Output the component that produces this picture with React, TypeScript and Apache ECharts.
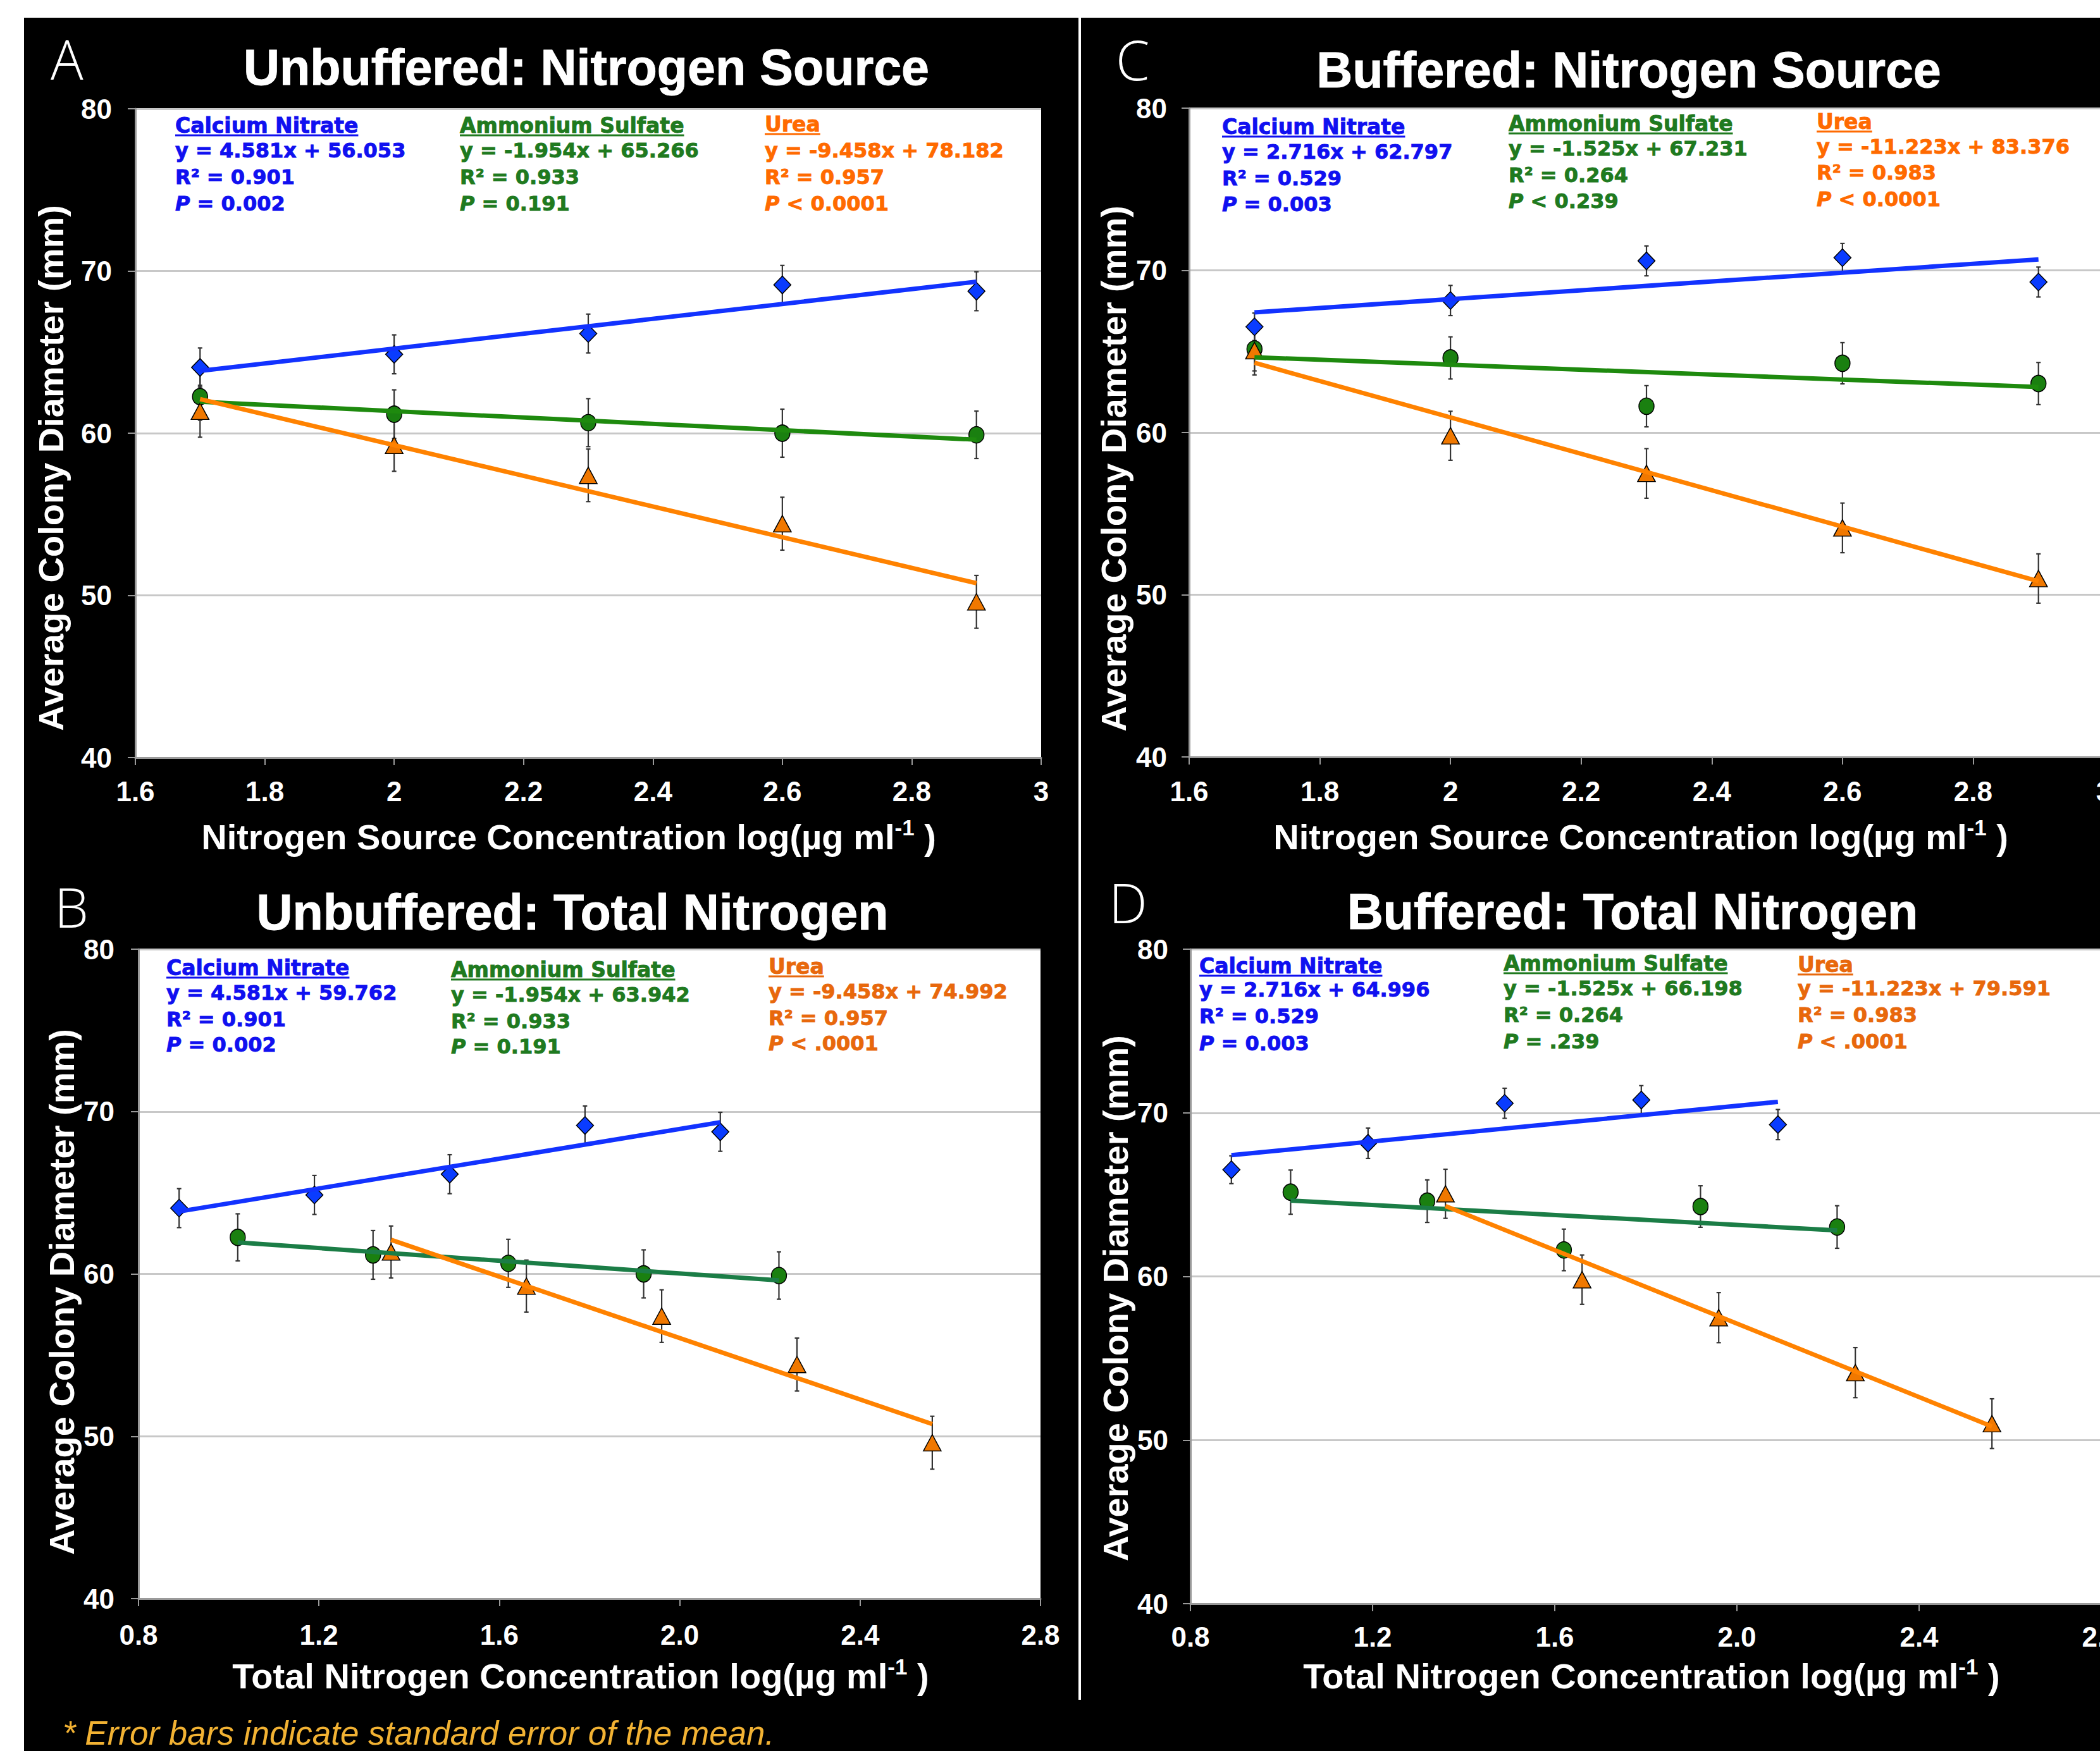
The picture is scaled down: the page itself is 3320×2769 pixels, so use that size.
import React, { useEffect, useRef } from "react";
import * as echarts from "echarts";

// ---------- data ----------
const SOURCE_X = [1.7, 2.0, 2.3, 2.6, 2.9];
const TOTAL_X_CN = [0.89, 1.19, 1.49, 1.79, 2.09];
const TOTAL_X_AS = [1.02, 1.32, 1.62, 1.92, 2.22];
const TOTAL_X_UREA = [1.36, 1.66, 1.96, 2.26, 2.56];

const UNBUF_CN = [64.05, 64.86, 66.14, 69.14, 68.75];
const UNBUF_CN_SE = [1.2, 1.2, 1.2, 1.2, 1.2];
const UNBUF_AS = [62.25, 61.17, 60.65, 60.0, 59.9];
const UNBUF_AS_SE = [1.45, 1.5, 1.48, 1.48, 1.46];
const UNBUF_UREA = [61.35, 59.25, 57.4, 54.42, 49.6];
const UNBUF_UREA_SE = [1.6, 1.6, 1.62, 1.63, 1.63];

const BUF_CN = [66.52, 68.14, 70.58, 70.78, 69.28];
const BUF_CN_SE = [0.85, 0.93, 0.92, 0.88, 0.92];
const BUF_AS = [65.15, 64.6, 61.62, 64.27, 63.02];
const BUF_AS_SE = [1.35, 1.3, 1.27, 1.27, 1.3];
const BUF_UREA = [65.05, 59.8, 57.48, 54.12, 51.0];
const BUF_UREA_SE = [1.5, 1.51, 1.53, 1.53, 1.52];

// trend line end values (at first and last x of each series)
const UNBUF_TREND_CN = [63.84, 69.34];
const UNBUF_TREND_AS = [61.94, 59.6];
const UNBUF_TREND_UREA = [62.1, 50.75];
const BUF_TREND_CN = [67.41, 70.67];
const BUF_TREND_AS = [64.64, 62.81];
const BUF_TREND_UREA = [64.3, 50.83];

const Y_TICKS = { min: 40, max: 80, interval: 10 };
const SOURCE_TICKS = { min: 1.6, max: 3, interval: 0.2 };
const TOTAL_TICKS = { min: 0.8, max: 2.8, interval: 0.4 };

const SERIES_NAMES = ["Calcium Nitrate", "Ammonium Sulfate", "Urea"];

const A_EQ = ["y = 4.581x + 56.053", "y = -1.954x + 65.266", "y = -9.458x + 78.182"];
const A_R2 = ["R² = 0.901", "R² = 0.933", "R² = 0.957"];
const A_P = [" = 0.002", " = 0.191", " < 0.0001"];
const C_EQ = ["y = 2.716x + 62.797", "y = -1.525x + 67.231", "y = -11.223x + 83.376"];
const C_R2 = ["R² = 0.529", "R² = 0.264", "R² = 0.983"];
const C_P = [" = 0.003", " < 0.239", " < 0.0001"];
const B_EQ = ["y = 4.581x + 59.762", "y = -1.954x + 63.942", "y = -9.458x + 74.992"];
const B_R2 = ["R² = 0.901", "R² = 0.933", "R² = 0.957"];
const B_P = [" = 0.002", " = 0.191", " < .0001"];
const D_EQ = ["y = 2.716x + 64.996", "y = -1.525x + 66.198", "y = -11.223x + 79.591"];
const D_R2 = ["R² = 0.529", "R² = 0.264", "R² = 0.983"];
const D_P = [" = 0.003", " = .239", " < .0001"];

const Y_NAME = "Average Colony Diameter (mm)";
const FOOTNOTE = "* Error bars indicate standard error of the mean.";

// ---------- styles ----------
const SYMBOLS = ["diamond", "circle", "triangle"];
const SYMBOL_SIZES: any[] = [[27, 28], [24, 26], [28, 26]];
const MARKER_COLORS = ["#0A3CFF", "#1A8010", "#F07800"];
const TEXT_BOLD = "Liberation Sans";
const LEG_FONT = "DejaVu Sans";

const PANELS = [
  {
    letter: "A", title: "Unbuffered: Nitrogen Source", xNameMain: "Nitrogen Source Concentration log(µg ml",
    grid: { left: 214, top: 172, width: 1432, height: 1026 }, xt: SOURCE_TICKS, dec: false,
    xs: [SOURCE_X, SOURCE_X, SOURCE_X], ys: [UNBUF_CN, UNBUF_AS, UNBUF_UREA],
    se: [UNBUF_CN_SE, UNBUF_AS_SE, UNBUF_UREA_SE], trend: [UNBUF_TREND_CN, UNBUF_TREND_AS, UNBUF_TREND_UREA],
    eq: A_EQ, r2: A_R2, p: A_P,
    letterPos: [80, 92], titlePos: [927, 106], xNamePos: [899, 1323], yNamePos: [80, 740],
    legX: [277, 727, 1209], legY: [[198, 238, 280, 322], [198, 238, 280, 322], [196, 238, 280, 322]],
    yMargin: 37, xMargin: 31,
    lineColors: ["#1232FF", "#1E8A0E", "#FF8200"], textColors: ["#1010F0", "#1F7A1F", "#FF6A00"],
  },
  {
    letter: "C", title: "Buffered: Nitrogen Source", xNameMain: "Nitrogen Source Concentration log(µg ml",
    grid: { left: 1880, top: 171, width: 1446, height: 1026 }, xt: SOURCE_TICKS, dec: false,
    xs: [SOURCE_X, SOURCE_X, SOURCE_X], ys: [BUF_CN, BUF_AS, BUF_UREA],
    se: [BUF_CN_SE, BUF_AS_SE, BUF_UREA_SE], trend: [BUF_TREND_CN, BUF_TREND_AS, BUF_TREND_UREA],
    eq: C_EQ, r2: C_R2, p: C_P,
    letterPos: [1764, 93], titlePos: [2575, 110], xNamePos: [2594, 1323], yNamePos: [1760, 741],
    legX: [1932, 2385, 2872], legY: [[200, 240, 282, 323], [195, 235, 277, 318], [192, 232, 273, 315]],
    yMargin: 35, xMargin: 32,
    lineColors: ["#1232FF", "#1E8A0E", "#FF8200"], textColors: ["#1010F0", "#1F7A1F", "#FF6A00"],
  },
  {
    letter: "B", title: "Unbuffered: Total Nitrogen", xNameMain: "Total Nitrogen Concentration log(µg ml",
    grid: { left: 219, top: 1501, width: 1426, height: 1027 }, xt: TOTAL_TICKS, dec: true,
    xs: [TOTAL_X_CN, TOTAL_X_AS, TOTAL_X_UREA], ys: [UNBUF_CN, UNBUF_AS, UNBUF_UREA],
    se: [UNBUF_CN_SE, UNBUF_AS_SE, UNBUF_UREA_SE], trend: [UNBUF_TREND_CN, UNBUF_TREND_AS, UNBUF_TREND_UREA],
    eq: B_EQ, r2: B_R2, p: B_P,
    letterPos: [86, 1433], titlePos: [905, 1442], xNamePos: [918, 2650], yNamePos: [97, 2043],
    legX: [263, 713, 1215], legY: [[1530, 1570, 1612, 1652], [1533, 1573, 1615, 1655], [1528, 1568, 1610, 1650]],
    yMargin: 38, xMargin: 35,
    lineColors: ["#1232FF", "#1B7D46", "#FF8200"], textColors: ["#1010F0", "#1F7A1F", "#E8680C"],
  },
  {
    letter: "D", title: "Buffered: Total Nitrogen", xNameMain: "Total Nitrogen Concentration log(µg ml",
    grid: { left: 1882, top: 1501, width: 1440, height: 1035 }, xt: TOTAL_TICKS, dec: true,
    xs: [TOTAL_X_CN, TOTAL_X_AS, TOTAL_X_UREA], ys: [BUF_CN, BUF_AS, BUF_UREA],
    se: [BUF_CN_SE, BUF_AS_SE, BUF_UREA_SE], trend: [BUF_TREND_CN, BUF_TREND_AS, BUF_TREND_UREA],
    eq: D_EQ, r2: D_R2, p: D_P,
    letterPos: [1753, 1426], titlePos: [2581, 1441], xNamePos: [2611, 2650], yNamePos: [1763, 2053],
    legX: [1896, 2377, 2842], legY: [[1527, 1565, 1607, 1650], [1523, 1563, 1605, 1647], [1525, 1563, 1605, 1647]],
    yMargin: 35, xMargin: 30,
    lineColors: ["#1232FF", "#1B7D46", "#FF8200"], textColors: ["#1010F0", "#1F7A1F", "#E8680C"],
  },
];

function errorBarRender(params: any, api: any) {
  const x = api.value(0);
  const y = api.value(1);
  const e = api.value(2);
  const top = api.coord([x, y + e]);
  const bot = api.coord([x, y - e]);
  const cap = 3.5;
  const st = { stroke: "#333", lineWidth: 2.2 };
  return {
    type: "group",
    children: [
      { type: "line", shape: { x1: top[0], y1: top[1], x2: bot[0], y2: bot[1] }, style: st },
      { type: "line", shape: { x1: top[0] - cap, y1: top[1], x2: top[0] + cap, y2: top[1] }, style: st },
      { type: "line", shape: { x1: bot[0] - cap, y1: bot[1], x2: bot[0] + cap, y2: bot[1] }, style: st },
    ],
  };
}

export default function App() {
  const ref = useRef<HTMLDivElement>(null);

  useEffect(() => {
    document.body.style.margin = "0";
    document.body.style.overflow = "hidden";
    const chart = echarts.init(ref.current!, null, { renderer: "svg" });
    const canvas = document.createElement("canvas");
    const ctx = canvas.getContext("2d")!;
    const measure = (text: string, font: string) => {
      ctx.font = font;
      return ctx.measureText(text).width;
    };

    const grids: any[] = [];
    const xAxes: any[] = [];
    const yAxes: any[] = [];
    const series: any[] = [];
    const graphics: any[] = [
      { type: "rect", shape: { x: 0, y: 0, width: 3320, height: 28 }, style: { fill: "#fff" }, z: 50 },
      { type: "rect", shape: { x: 0, y: 0, width: 38, height: 2769 }, style: { fill: "#fff" }, z: 50 },
      { type: "rect", shape: { x: 1705, y: 28, width: 4, height: 2660 }, style: { fill: "#fff" }, z: 50 },
      {
        type: "text", x: 99, y: 2740, z: 100,
        style: {
          text: FOOTNOTE, fill: "#F2B233", fontSize: 53, fontFamily: "Liberation Sans",
          fontStyle: "italic", align: "left", verticalAlign: "middle",
        },
      },
    ];

    PANELS.forEach((p, gi) => {
      grids.push({
        ...p.grid, show: true, backgroundColor: "#ffffff", borderWidth: 0,
        containLabel: false, outerBoundsMode: "none",
      });
      xAxes.push({
        type: "value", gridIndex: gi, min: p.xt.min, max: p.xt.max, interval: p.xt.interval,
        axisLine: { show: true, onZero: false, lineStyle: { color: "#9a9a9a", width: 3 } },
        axisTick: { show: true, inside: false, length: 12, lineStyle: { color: "#9a9a9a", width: 2 } },
        splitLine: { show: false },
        axisLabel: {
          show: true, color: "#fff", fontSize: 44, fontWeight: "bold", fontFamily: TEXT_BOLD,
          margin: p.xMargin, showMinLabel: true, showMaxLabel: true,
          formatter: p.dec ? (v: number) => v.toFixed(1) : undefined,
        },
      });
      yAxes.push({
        type: "value", gridIndex: gi, min: Y_TICKS.min, max: Y_TICKS.max, interval: Y_TICKS.interval,
        axisLine: { show: true, lineStyle: { color: "#9a9a9a", width: 3 } },
        axisTick: { show: true, inside: false, length: 12, lineStyle: { color: "#9a9a9a", width: 2 } },
        splitLine: { show: true, lineStyle: { color: "#c8c8c8", width: 3 } },
        axisLabel: {
          show: true, color: "#fff", fontSize: 44, fontWeight: "bold", fontFamily: TEXT_BOLD,
          margin: p.yMargin, showMinLabel: true, showMaxLabel: true,
        },
      });

      for (let s = 0; s < 3; s++) {
        const xs = p.xs[s];
        const ys = p.ys[s];
        const se = p.se[s];
        series.push({
          type: "custom", name: SERIES_NAMES[s] + " SE", xAxisIndex: gi, yAxisIndex: gi,
          renderItem: errorBarRender, encode: { x: 0, y: 1 }, silent: true, z: 2,
          data: xs.map((x: number, i: number) => [x, ys[i], se[i]]),
        });
        series.push({
          type: "scatter", name: SERIES_NAMES[s], xAxisIndex: gi, yAxisIndex: gi, z: 3,
          symbol: SYMBOLS[s], symbolSize: SYMBOL_SIZES[s],
          itemStyle: { color: MARKER_COLORS[s], borderColor: "#000", borderWidth: 1.5, opacity: 1 },
          data: xs.map((x: number, i: number) => [x, ys[i]]),
        });
        series.push({
          type: "line", name: SERIES_NAMES[s] + " trend", xAxisIndex: gi, yAxisIndex: gi, z: 4,
          symbol: "none", showSymbol: false, silent: true,
          lineStyle: { width: 7, color: p.lineColors[s] },
          data: [[xs[0], p.trend[s][0]], [xs[xs.length - 1], p.trend[s][1]]],
        });

        // legend block
        const lx = p.legX[s];
        const ly = p.legY[s];
        const col = p.textColors[s];
        const hdrFont = `bold 33px "${LEG_FONT}"`;
        const hw = measure(SERIES_NAMES[s], hdrFont);
        const thick = { stroke: col, lineWidth: 0.9 };
        graphics.push({
          type: "text", x: lx, y: ly[0], z: 100,
          style: { text: SERIES_NAMES[s], fill: col, ...thick, fontSize: 33, fontWeight: "bold", fontFamily: LEG_FONT, align: "left", verticalAlign: "middle" },
        });
        graphics.push({
          type: "line", z: 100, shape: { x1: lx, y1: ly[0] + 16, x2: lx + hw, y2: ly[0] + 16 },
          style: { stroke: col, lineWidth: 3 },
        });
        graphics.push({
          type: "text", x: lx, y: ly[1], z: 100,
          style: { text: p.eq[s], fill: col, ...thick, fontSize: 32, fontWeight: "bold", fontFamily: LEG_FONT, align: "left", verticalAlign: "middle" },
        });
        graphics.push({
          type: "text", x: lx, y: ly[2], z: 100,
          style: { text: p.r2[s], fill: col, ...thick, fontSize: 32, fontWeight: "bold", fontFamily: LEG_FONT, align: "left", verticalAlign: "middle" },
        });
        graphics.push({
          type: "text", x: lx, y: ly[3], z: 100,
          style: {
            text: "{i|P}{n|" + p.p[s] + "}", fill: col, ...thick, fontSize: 32, fontWeight: "bold", fontFamily: LEG_FONT,
            align: "left", verticalAlign: "middle",
            rich: {
              i: { fill: col, color: col, ...thick, fontSize: 32, fontWeight: "bold", fontStyle: "italic", fontFamily: LEG_FONT },
              n: { fill: col, color: col, ...thick, fontSize: 32, fontWeight: "bold", fontFamily: LEG_FONT },
            },
          },
        });
      }

      // panel letter
      graphics.push({
        type: "text", x: p.letterPos[0], y: p.letterPos[1], z: 100,
        style: { text: p.letter, fill: "#fff", fontSize: 86, lineHeight: 74, fontWeight: 300, fontFamily: "Open Sans", align: "left", verticalAlign: "middle" },
      });
      // title
      graphics.push({
        type: "text", x: p.titlePos[0], y: p.titlePos[1], z: 100,
        style: { text: p.title, fill: "#fff", stroke: "#fff", lineWidth: 1, fontSize: 79, fontWeight: "bold", fontFamily: TEXT_BOLD, align: "center", verticalAlign: "middle" },
      });
      // y axis name
      graphics.push({
        type: "text", x: p.yNamePos[0], y: p.yNamePos[1], rotation: Math.PI / 2, z: 100,
        style: { text: Y_NAME, fill: "#fff", fontSize: 56, fontWeight: "bold", fontFamily: TEXT_BOLD, align: "center", verticalAlign: "middle" },
      });
      // x axis name with superscript
      const mainFont = `bold 56px "${TEXT_BOLD}"`;
      const supFont = `bold 35px "${TEXT_BOLD}"`;
      const w1 = measure(p.xNameMain, mainFont);
      const w2 = measure("-1", supFont);
      const w3 = measure(" )", mainFont);
      const x0 = p.xNamePos[0] - (w1 + w2 + w3) / 2;
      const yN = p.xNamePos[1];
      graphics.push({
        type: "text", x: x0, y: yN, z: 100,
        style: { text: p.xNameMain, fill: "#fff", fontSize: 56, fontWeight: "bold", fontFamily: TEXT_BOLD, align: "left", verticalAlign: "middle" },
      });
      graphics.push({
        type: "text", x: x0 + w1, y: yN - 15, z: 100,
        style: { text: "-1", fill: "#fff", fontSize: 35, fontWeight: "bold", fontFamily: TEXT_BOLD, align: "left", verticalAlign: "middle" },
      });
      graphics.push({
        type: "text", x: x0 + w1 + w2, y: yN, z: 100,
        style: { text: " )", fill: "#fff", fontSize: 56, fontWeight: "bold", fontFamily: TEXT_BOLD, align: "left", verticalAlign: "middle" },
      });
    });

    chart.setOption({
      animation: false,
      backgroundColor: "#000000",
      grid: grids,
      xAxis: xAxes,
      yAxis: yAxes,
      series,
      graphic: { elements: graphics },
    });

    return () => chart.dispose();
  }, []);

  return (
    <div
      ref={ref}
      style={{ position: "absolute", left: 0, top: 0, width: 3320, height: 2769 }}
    />
  );
}
